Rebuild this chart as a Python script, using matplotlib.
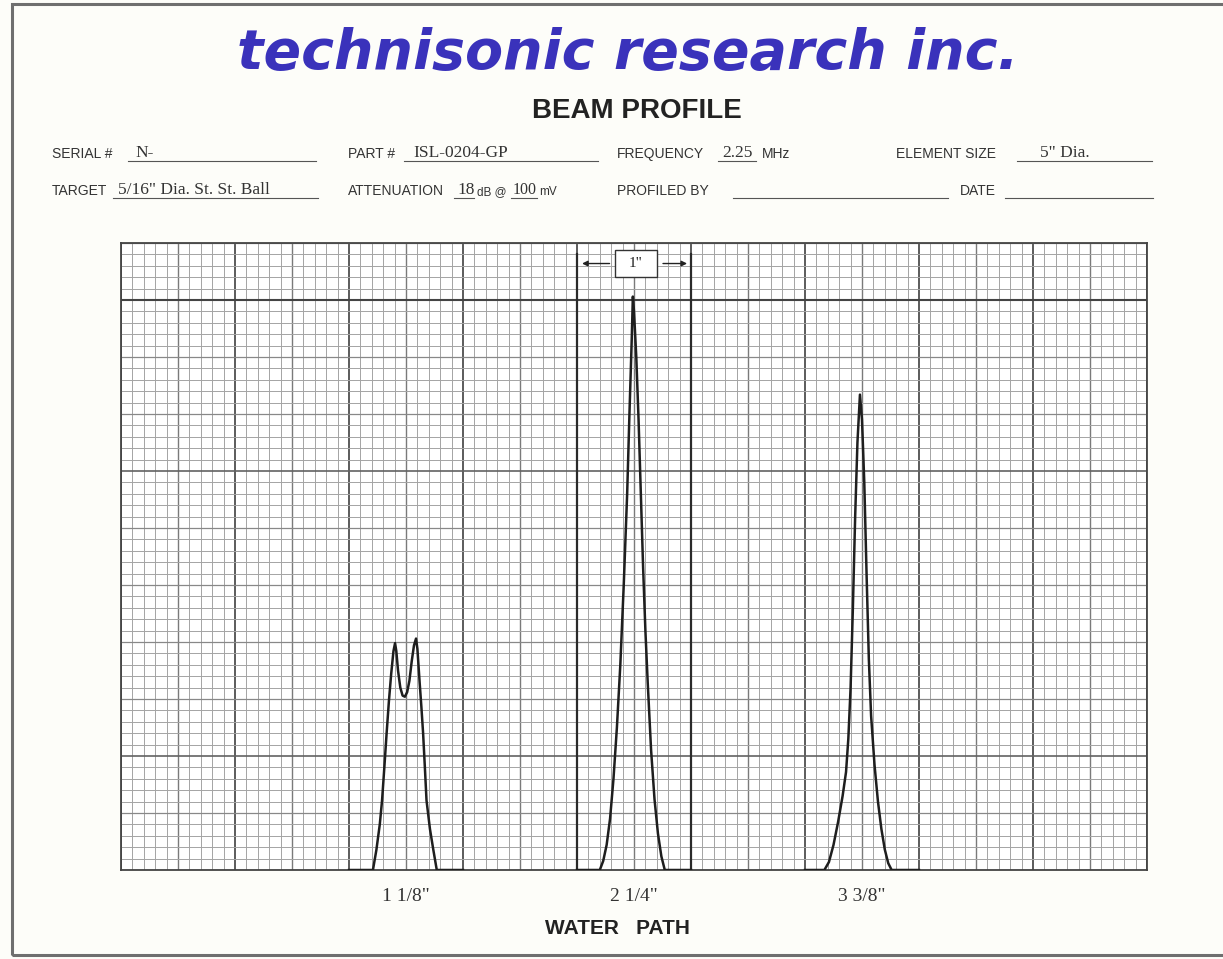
import numpy as np
import matplotlib
matplotlib.use("Agg")
import matplotlib.pyplot as plt
from matplotlib.lines import Line2D
from matplotlib.patches import Rectangle

# Данные: профили луча (x - дюймы по шкале, y - деления сетки)
peak1_x = [2.0, 2.21, 2.24, 2.27, 2.29, 2.31, 2.33, 2.35, 2.37, 2.39, 2.404,
           2.415, 2.43, 2.45, 2.47, 2.49, 2.51, 2.53, 2.55, 2.57, 2.588,
           2.60, 2.62, 2.635, 2.65, 2.665, 2.68, 2.71, 2.74, 2.77, 3.0]
peak1_y = [0, 0, 1.75, 4.0, 6.1, 9.0, 12.0, 14.8, 17.2, 19.2, 19.9,
           19.2, 17.5, 16.0, 15.3, 15.2, 15.6, 16.6, 18.3, 19.7, 20.3,
           19.4, 16.4, 14.3, 12.0, 9.1, 6.1, 3.6, 1.75, 0, 0]

peak2_x = [4.0, 4.20, 4.23, 4.26, 4.29, 4.32, 4.35, 4.38, 4.41, 4.44, 4.46,
           4.48, 4.49, 4.50, 4.52, 4.54, 4.56, 4.58, 4.60, 4.62, 4.65,
           4.68, 4.71, 4.74, 4.77, 5.0]
peak2_y = [0, 0, 0.8, 2.2, 4.5, 8.0, 12.5, 18.0, 25.0, 33.0, 40.0,
           46.5, 50.3, 49.0, 45.0, 39.5, 33.0, 26.5, 21.0, 16.5, 10.5,
           6.2, 3.2, 1.2, 0, 0]

peak3_x = [6.0, 6.17, 6.21, 6.25, 6.29, 6.33, 6.36, 6.38, 6.40, 6.42, 6.44,
           6.46, 6.482, 6.50, 6.52, 6.54, 6.56, 6.58, 6.61, 6.64, 6.67,
           6.70, 6.73, 6.76, 7.0]
peak3_y = [0, 0, 0.7, 2.2, 4.2, 6.5, 8.6, 11.5, 16.0, 23.0, 31.0,
           37.5, 41.7, 39.5, 34.0, 26.0, 18.5, 13.5, 9.2, 6.0, 3.6,
           1.8, 0.6, 0, 0]

tick_pos = [2.5, 4.5, 6.5]
tick_labels = ['1 1/8"', '2 1/4"', '3 3/8"']

W, H = 1223, 959
fig = plt.figure(figsize=(W / 100, H / 100), dpi=100)
fig.patch.set_facecolor('#fdfdf9')


def fx(px):
    return px / W


def fy(py):
    return 1 - py / H


# рамка страницы
fig.add_artist(Rectangle((fx(12), fy(955)), fx(1240) - fx(12), fy(4) - fy(955),
                         transform=fig.transFigure, fill=False,
                         edgecolor='#6f6f6f', lw=2.2))

# заголовок
fig.text(fx(628), fy(54), 'technisonic research inc.', ha='center', va='center',
         fontsize=40, fontweight='bold', style='italic', color='#3a32bb',
         family='DejaVu Sans')
fig.text(fx(637), fy(111), 'BEAM PROFILE', ha='center', va='center',
         fontsize=20, fontweight='bold', color='#222222', family='Liberation Sans')

lab = dict(fontsize=10, color='#333333', family='Liberation Sans', va='baseline')
val = dict(fontsize=12.5, color='#333333', family='Liberation Serif', va='baseline')


def uline(x0, x1, py):
    fig.add_artist(Line2D([fx(x0), fx(x1)], [fy(py), fy(py)],
                          transform=fig.transFigure, color='#555555', lw=0.8))


# строка 1
y1 = 158
fig.text(fx(52), fy(y1), 'SERIAL #', **lab)
uline(128, 316, y1 + 3)
fig.text(fx(135), fy(y1 - 1), 'N-', **val)
fig.text(fx(348), fy(y1), 'PART #', **lab)
uline(404, 598, y1 + 3)
fig.text(fx(413), fy(y1 - 1), 'ISL-0204-GP', **val)
fig.text(fx(617), fy(y1), 'FREQUENCY', **lab)
uline(718, 756, y1 + 3)
fig.text(fx(722), fy(y1 - 1), '2.25', **val)
fig.text(fx(762), fy(y1), 'MHz', **lab)
fig.text(fx(896), fy(y1), 'ELEMENT SIZE', **lab)
uline(1017, 1152, y1 + 3)
fig.text(fx(1040), fy(y1 - 1), '5" Dia.', **val)

# строка 2
y2 = 195
fig.text(fx(52), fy(y2), 'TARGET', **lab)
uline(113, 318, y2 + 3)
fig.text(fx(118), fy(y2 - 1), '5/16" Dia. St. St. Ball', **val)
fig.text(fx(348), fy(y2), 'ATTENUATION', **lab)
uline(454, 474, y2 + 3)
fig.text(fx(457), fy(y2 - 1), '18', **val)
fig.text(fx(477), fy(y2), 'dB @', **dict(lab, fontsize=8.5))
uline(511, 537, y2 + 3)
fig.text(fx(513), fy(y2 - 1), '100', **dict(val, fontsize=11.5))
fig.text(fx(539), fy(y2), 'mV', **dict(lab, fontsize=8.5))
fig.text(fx(617), fy(y2), 'PROFILED BY', **lab)
uline(733, 948, y2 + 3)
fig.text(fx(960), fy(y2), 'DATE', **lab)
uline(1005, 1153, y2 + 3)

# поле графика
ax = fig.add_axes([fx(121), fy(870), fx(1147) - fx(121), fy(243) - fy(870)])
ax.set_facecolor('white')
ax.set_xlim(0, 9)
ax.set_ylim(0, 55)

# миллиметровка
for v in np.arange(0, 9.001, 0.1):
    k = int(round(v * 10))
    if k % 10 == 0:
        ax.axvline(v, color='#4e4e4e', lw=1.3, zorder=1)
    elif k % 5 == 0:
        ax.axvline(v, color='#7a7a7a', lw=1.0, zorder=1)
    else:
        ax.axvline(v, color='#a4a4a4', lw=0.7, zorder=1)
for v in range(0, 56):
    if v == 50:
        ax.axhline(v, color='#444444', lw=1.5, zorder=1)
    elif v in (10, 35):
        ax.axhline(v, color='#626262', lw=1.2, zorder=1)
    elif v % 5 == 0:
        ax.axhline(v, color='#888888', lw=0.9, zorder=1)
    else:
        ax.axhline(v, color='#a4a4a4', lw=0.7, zorder=1)

# линии строба у центрального пика
for v in (4.0, 5.0):
    ax.plot([v, v], [0, 54], color='#2a2a2a', lw=1.6, zorder=2)

# кривые
for xs, ys in ((peak1_x, peak1_y), (peak2_x, peak2_y), (peak3_x, peak3_y)):
    ax.plot(xs, ys, color='#1e1e1e', lw=1.8, zorder=3, solid_joinstyle='round')

# метка "1 дюйм"
ax.add_patch(Rectangle((4.33, 52.0), 0.37, 2.4, facecolor='white',
                       edgecolor='#333333', lw=1.0, zorder=4))
ax.text(4.515, 53.2, '1"', ha='center', va='center', fontsize=11,
        family='Liberation Serif', color='#222222', zorder=5)
ax.annotate('', xy=(4.02, 53.2), xytext=(4.31, 53.2),
            arrowprops=dict(arrowstyle='-|>', color='#222222', lw=1.0,
                            mutation_scale=8), zorder=5)
ax.annotate('', xy=(4.99, 53.2), xytext=(4.73, 53.2),
            arrowprops=dict(arrowstyle='-|>', color='#222222', lw=1.0,
                            mutation_scale=8), zorder=5)

for s in ax.spines.values():
    s.set_color('#444444')
    s.set_linewidth(1.3)

ax.set_yticks([])
ax.set_xticks(tick_pos)
ax.set_xticklabels(tick_labels, family='Liberation Serif', fontsize=14,
                   color='#333333')
ax.tick_params(axis='x', length=0, pad=13)
ax.set_xlabel('WATER   PATH', family='Liberation Sans', fontweight='bold',
              fontsize=15, color='#222222')
ax.xaxis.set_label_coords((617 - 121) / 1026, -(929 - 870) / 627)
ax.xaxis.label.set_va('center')

fig.savefig('out.png', dpi=100, facecolor=fig.get_facecolor())
